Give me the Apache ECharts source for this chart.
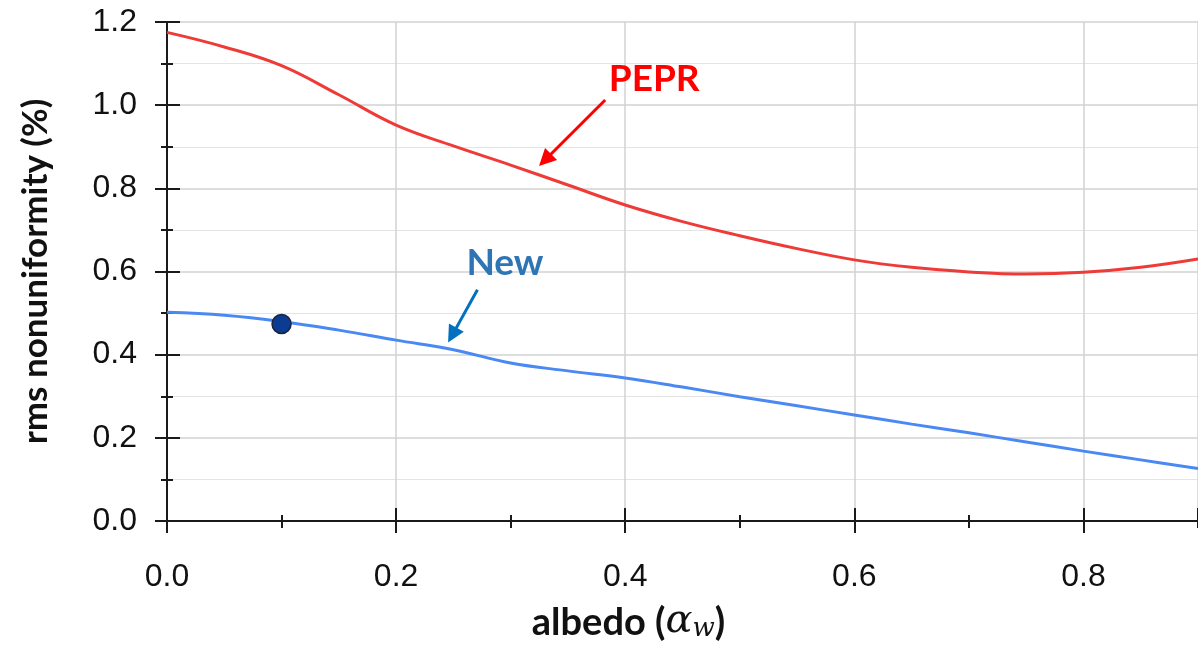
<!DOCTYPE html>
<html><head><meta charset="utf-8">
<script src="https://cdn.jsdelivr.net/npm/echarts@6/dist/echarts.min.js"></script>
<style>html,body{margin:0;padding:0;background:#fff}#c{width:1198px;height:646px}</style>
</head><body><div id="c"></div>
<script>
const albedo = [0, 0.05, 0.1, 0.15, 0.2, 0.25, 0.3, 0.35, 0.4, 0.45, 0.5, 0.55, 0.6, 0.65, 0.7, 0.75, 0.8, 0.85, 0.9];
const peprValues = [1.175, 1.14, 1.095, 1.025, 0.952, 0.902, 0.856, 0.808, 0.76, 0.72, 0.686, 0.655, 0.628, 0.61, 0.599, 0.594, 0.598, 0.61, 0.63];
const newValues = [0.502, 0.495, 0.480, 0.459, 0.435, 0.412, 0.380, 0.361, 0.344, 0.322, 0.299, 0.277, 0.255, 0.233, 0.212, 0.190, 0.168, 0.147, 0.126];
const markedPoint = [0.1, 0.474];
const xTickLabels = ['0.0', '0.2', '0.4', '0.6', '0.8'];
const yTickLabels = ['0.0', '0.2', '0.4', '0.6', '0.8', '1.0', '1.2'];

const chart = echarts.init(document.getElementById('c'), null, {renderer: 'canvas'});
const axisColor = '#1a1a1a';
const fmt = v => v.toFixed(1);

function overlayX(interval, inside, length) {
  return {type: 'value', min: 0, max: 0.9, interval: interval, position: 'bottom', gridIndex: 0,
    axisLine: {show: false}, axisLabel: {show: false}, splitLine: {show: false},
    axisTick: {show: true, inside: inside, length: length, lineStyle: {color: axisColor, width: 2}}};
}

const option = {
  animation: false,
  backgroundColor: '#fff',
  grid: {left: 167, right: 0, top: 22, bottom: 125, outerBoundsMode: 'none', containLabel: false},
  xAxis: [
    {type: 'value', min: 0, max: 0.9, interval: 0.2, position: 'bottom',
      name: '{t|albedo (}{a|α}{s|w}{t|)}', nameLocation: 'middle', nameGap: 75,
      nameTextStyle: {padding: [0, 108, 0, 0], rich: {
        t: {fontFamily: 'Lato', fontWeight: 'bold', fontSize: 38, color: '#111', verticalAlign: 'bottom', lineHeight: 46},
        a: {fontFamily: 'DejaVu Serif', fontStyle: 'italic', fontSize: 40, color: '#111', verticalAlign: 'bottom', lineHeight: 46},
        s: {fontFamily: 'DejaVu Serif', fontStyle: 'italic', fontSize: 26, color: '#111', verticalAlign: 'bottom', lineHeight: 38}
      }},
      axisLine: {show: true, onZero: false, lineStyle: {color: axisColor, width: 2}},
      axisTick: {show: true, inside: false, length: 12, lineStyle: {color: axisColor, width: 2}},
      axisLabel: {show: true, margin: 40, fontFamily: 'Liberation Sans', fontSize: 32, color: '#111',
        showMaxLabel: false, formatter: v => { const s = fmt(v); return xTickLabels.indexOf(s) >= 0 ? s : ''; }},
      splitLine: {show: true, lineStyle: {color: '#d2d2d2', width: 1.5}}
    },
    overlayX(0.2, true, 13),
    overlayX(0.1, true, 6),
    overlayX(0.1, false, 7)
  ],
  yAxis: [
    {type: 'value', min: 0, max: 1.2, interval: 0.2, position: 'left',
      name: 'rms nonuniformity (%)', nameLocation: 'middle', nameGap: 114, nameRotate: 90,
      nameTextStyle: {fontFamily: 'Lato', fontWeight: 'bold', fontSize: 35, color: '#111'},
      axisLine: {show: true, onZero: false, lineStyle: {color: axisColor, width: 2}},
      axisTick: {show: true, inside: false, length: 12, lineStyle: {color: axisColor, width: 2}},
      minorTick: {show: true, splitNumber: 2, length: 6, lineStyle: {color: axisColor, width: 2}},
      axisLabel: {show: true, margin: 30, fontFamily: 'Liberation Sans', fontSize: 32, color: '#111',
        formatter: v => { const s = fmt(v); return yTickLabels.indexOf(s) >= 0 ? s : ''; }},
      splitLine: {show: true, lineStyle: {color: '#d2d2d2', width: 1.5}},
      minorSplitLine: {show: true, lineStyle: {color: '#e4e4e4', width: 1.2}}
    },
    {type: 'value', min: 0, max: 1.2, interval: 0.2, position: 'left',
      axisLine: {show: false}, axisLabel: {show: false}, splitLine: {show: false},
      axisTick: {show: true, inside: true, length: 13, lineStyle: {color: axisColor, width: 2}},
      minorTick: {show: true, splitNumber: 2, length: 6, lineStyle: {color: axisColor, width: 2}}
    }
  ],
  series: [
    {name: 'PEPR', type: 'line', smooth: 0.4, symbol: 'none',
      data: albedo.map((x, i) => [x, peprValues[i]]),
      lineStyle: {color: '#EE3B38', width: 3},
      markLine: {silent: true, symbol: ['none', 'triangle'], symbolSize: 17,
        label: {show: false}, lineStyle: {color: '#FF0000', width: 3, type: 'solid'},
        data: [[{coord: [0.3825, 1.0125]}, {coord: [0.33, 0.868]}]]},
      markPoint: {silent: true, symbol: 'rect', symbolSize: 1, itemStyle: {color: 'rgba(0,0,0,0)'},
        label: {show: true, position: 'inside', formatter: 'PEPR', fontFamily: 'Lato', fontWeight: 'bold', fontSize: 37, color: '#FF0000'},
        data: [{coord: [0.4253, 1.063]}]}
    },
    {name: 'New', type: 'line', smooth: 0.4, symbol: 'none',
      data: albedo.map((x, i) => [x, newValues[i]]),
      lineStyle: {color: '#4A89F3', width: 3},
      markLine: {silent: true, symbol: ['none', 'triangle'], symbolSize: 17,
        label: {show: false}, lineStyle: {color: '#0070C0', width: 3, type: 'solid'},
        data: [[{coord: [0.271, 0.556]}, {coord: [0.249, 0.447]}]]},
      markPoint: {silent: true, symbol: 'rect', symbolSize: 1, itemStyle: {color: 'rgba(0,0,0,0)'},
        label: {show: true, position: 'inside', formatter: 'New', fontFamily: 'Lato', fontWeight: 'bold', fontSize: 37, color: '#2E75B6'},
        data: [{coord: [0.295, 0.6205]}]}
    },
    {name: 'marker', type: 'scatter', symbol: 'circle', symbolSize: 19,
      data: [markedPoint],
      itemStyle: {color: '#0A3C92', opacity: 1, borderColor: '#1b2440', borderWidth: 1.5}, z: 5}
  ]
};
chart.setOption(option);
</script></body></html>
